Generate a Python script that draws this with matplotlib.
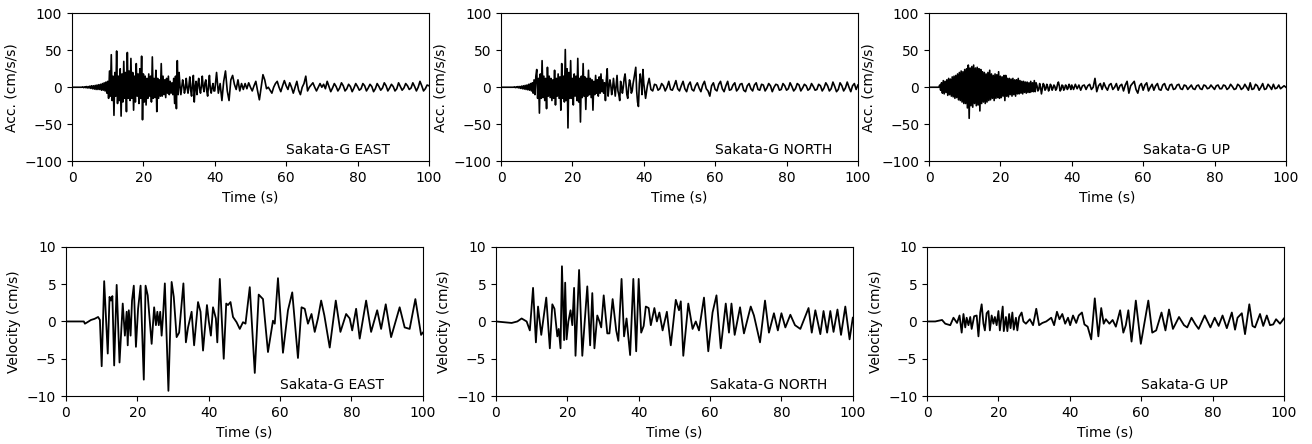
import numpy as np
import matplotlib
matplotlib.use('Agg')
import matplotlib.pyplot as plt

# acceleration (cm/s/s), 0-39.75 s read every 0.25 s (one row = 5 s)
east_acc_early = [
    0, 0, 0, 0, 0, 0, 0, 0, 0, 0, 0, 0, 0.5, -0.5, 0.5, -0.5, 1, -1, 1, -1,
    1.5, -1.5, 2, -2, 2, -2.5, 2.5, -3, 3, -3, 3.5, -3, 4, -4, 5, -4, 6, -5, 7, -8,
    8, -15, 22, -12, 44, -18, 15, -38, 20, -12, 49, -22, 15, -18, 25, -39, 18, -20, 35, -15,
    20, -33, 47, -15, 22, -18, 39, -15, 20, -31, 15, -20, 32, -12, 18, -22, 25, -15, 42, -44,
    18, -20, 15, -24, 12, -15, 18, -12, 15, -20, 41, -15, 12, -14, 23, -33, 12, -15, 10, -12,
    32, -12, 15, -10, 10, -14, 12, -8, 15, -10, 8, -8, 6, -10, 12, -22, 15, -29, 36, -10,
    20, 2, -10, 0, 10, 3, -8, -2, 12, 0, -8, 2, 14, -4, -12, 5, 16, -20, 0, 8,
    -10, 4, 12, -2, -8, 2, 15, 0, -6, 6, 10, -5, -12, 3, 16, -2, -8, 0, 5, -5]
# 40-100 s read every 0.5 s (one row = 10 s)
east_acc_late = [
    -5, 20, -8, 5, -18, 8, 22, -5, -18, 10, 16, 4, -3, 10, -5, 5, -3, 5, -2, 6,
    0, -5, 2, 8, -5, -17, 0, 17, 10, -2, 0, -4, -8, 0, 5, 8, 0, -6, 2, 9,
    2, -3, 6, 0, -8, 0, 8, -4, -10, 0, 5, 15, -5, 0, 3, 6, 0, -5, 0, 5,
    0, 4, -2, 8, 1, -6, -1, 5, 1, -5, -1, 6, 2, -5, -2, 4, 1, -6, -1, 5,
    1, -4, -2, 5, 2, -5, -1, 4, 1, -6, -2, 5, 1, -4, -1, 6, 2, -5, -1, 4,
    1, -5, -2, 6, 1, -4, -1, 5, 2, -3, -1, 6, 1, -5, 0, 8, 2, -5, -2, 3,
    2]

north_acc_early = [
    0, 0, 0, 0, 0, 0, 0, 0, 0, 0, 0, 0, 0, 0, 0, 0.5, -0.5, 0.5, -0.5, 1,
    -1, 1, -1.5, 1.5, -2, 2, -2.5, 2.5, -3, 3, -3.5, 4, -4, 5, -5, 6, -8, 10, -10, 15,
    24, -15, 12, -35, 18, -15, 36, -14, 15, -18, 12, -29, 27, -12, 15, -14, 12, -18, 10, -15,
    23, -24, 12, -12, 18, -15, 14, -31, 32, -15, 15, -20, 51, -18, 25, -55, 20, -15, 36, -15,
    12, -24, 18, -12, 15, -18, 39, -20, 12, -47, 15, -14, 32, -12, 14, -30, 12, -12, 23, -10,
    12, -14, 10, -31, 8, -10, 16, -8, 10, -12, 14, -8, 18, -6, 10, -8, 6, -18, 10, 25,
    -12, 0, 10, 3, -10, -2, 12, 0, -12, 2, 16, -5, -10, -18, 8, 2, -8, 0, 12, 18,
    5, -10, -15, 0, 10, 5, -8, -5, 5, 12, 20, 27, -5, -20, -26, 5, 18, 8, -10, 24]
north_acc_late = [
    5, -15, 2, 12, -3, -5, 4, 3, -4, -2, 5, 2, -5, 0, 8, -3, -4, 2, 9, -2,
    -5, 2, 8, -2, -6, 3, 7, -3, -5, 2, 6, -1, -6, 3, 8, -2, -5, -12, 2, 6,
    -3, -5, 4, 8, -2, -6, 2, 8, -4, -3, 3, 6, -5, -2, 4, 5, -4, -6, 2, 5,
    -2, -5, 3, 6, -3, -4, 4, 3, -5, -1, 5, 2, -6, 0, 4, 3, -4, -3, 5, 2,
    -4, -2, 6, 1, -5, -2, 5, 3, -5, -1, 4, 2, -4, -2, 5, 1, -4, -3, 4, 2,
    -5, -1, 6, 2, -5, -2, 7, 1, -6, -3, 6, 2, -5, -1, 7, 0, -6, 2, 5, -3,
    3]

up_acc_early = [
    0, 0, 0, 0, 0, 0, 0, 0, 0, 0, 0, 0, 3, -4, 6, -8, 9, -9, 8, -7,
    10, -11, 12, -10, 11, -12, 14, -13, 15, -15, 16, -14, 18, -17, 20, -18, 22, -20, 21, -22,
    24, -22, 25, -28, 30, -42, 26, -25, 28, -27, 30, -22, 26, -25, 27, -24, 25, -32, 24, -22,
    21, -20, 20, -22, 18, -20, 20, -18, 23, -17, 18, -15, 16, -18, 18, -15, 17, -14, 21, -15,
    15, -14, 14, -12, 16, -18, 16, -12, 12, -13, 12, -10, 11, -12, 12, -10, 10, -12, 10, -9,
    12, -9, 9, -8, 8, -9, 8, -7, 7, -8, 7, -7, 6, -7, 8, -6, 6, -6, 9, -6,
    6, 2, -5, -3, 5, 0, -9, -2, 5, 3, -4, -2, 4, 1, -5, -2, 4, 2, -4, -1,
    3, 1, -4, -2, 4, 7, 2, -5, -3, 3, 2, -4, -2, 3, 2, -3, -1, 4, 1, -3]
up_acc_late = [
    3, -3, 4, -2, 3, -4, 2, 3, -3, 2, 4, -3, 0, 12, -6, 2, 5, -3, 6, 0,
    -4, 3, 5, -3, 0, 5, -4, 2, 4, -5, 3, 8, -8, 2, 5, 8, -3, -8, 2, 5,
    -4, 3, 6, -5, 0, 4, -4, 2, 5, -3, -4, 3, 5, -2, -4, 3, 4, -3, -2, 3,
    4, -2, -3, 3, 2, -3, 0, 3, -2, -3, 2, 3, -2, -3, 3, 2, -2, -1, 3, 0,
    -3, 2, 3, -2, -2, 3, 2, -3, -1, 4, 1, -3, -2, 4, 2, -3, -1, 4, 0, -4,
    6, -3, -2, 4, 2, -4, 0, 5, -3, -2, 4, 1, -3, 4, -2, -1, 3, -2, 0, 2,
    0]

# velocity (cm/s), (time, value) at the turning points of the trace
east_vel = [
    (0, 0), (5, 0), (5.3, -0.3), (6, -0.1), (7, 0.2), (8, 0.35), (9, 0.6), (9.5, 0.2),
    (10.0, -6.0), (10.7, 5.4), (11.7, -4.3), (12.2, 3.3), (12.6, 2.8), (13.0, 3.4), (13.5, -5.9),
    (14.2, 4.9), (15.0, -5.5), (15.9, 2.4), (16.5, -1.9), (17.0, 1.3), (17.3, -3.2), (17.6, 1.5),
    (18.1, -1.9), (18.5, 2.8), (19.0, 4.8), (19.6, -3.4), (20.2, 1.7), (20.9, 4.8), (21.8, -7.8),
    (22.3, 4.8), (22.9, 3.5), (24.0, -3.0), (24.7, 1.9), (25.2, -0.5), (25.6, 1.3), (26.0, -0.5),
    (26.4, 1.3), (26.8, -1.9), (27.2, 0.8), (27.7, 5.1), (28.7, -9.3), (29.6, 5.3), (30.2, 3.3),
    (31.0, -2.1), (31.7, -1.5), (32.9, 5.1), (33.6, -2.8), (34.2, -0.8), (35.2, 1.3), (35.9, -3.2),
    (37.0, 2.6), (37.7, 1.3), (38.4, -3.9), (39.5, 2.2), (40.0, 0.1), (40.6, -1.9), (41.2, 1.9),
    (42.0, 0.4), (42.4, -2.8), (43.1, 5.7), (44.2, -5.0), (44.9, 2.4), (45.4, 2.2), (46.1, 2.6),
    (46.8, 0.6), (47.8, -0.1), (48.7, -1.0), (49.6, -0.1), (50.3, -0.3), (51.5, 4.6), (52.9, -6.9),
    (54.0, 3.6), (55.2, 3.0), (56.6, -4.1), (58.0, 0.1), (58.5, -0.3), (59.4, 5.8), (60.8, -4.2),
    (62.2, 1.5), (63.4, 3.9), (65.0, -4.9), (66.0, 1.9), (66.9, 1.7), (67.8, -0.3), (68.8, 1.0),
    (69.7, -1.4), (70.6, 0.4), (71.5, 2.8), (72.4, 0.8), (73.9, -3.5), (75.6, 2.8), (76.9, -1.4),
    (78.5, 1.0), (79.5, 0.4), (80.2, -1.2), (81.3, 1.7), (82.3, -2.3), (84.1, 2.8), (85.5, -1.4),
    (87.2, 1.5), (88.3, -1.0), (89.6, 2.3), (91.1, -2.1), (93.5, 1.9), (94.9, -0.8), (96.3, -1.0),
    (97.9, 3.0), (99.5, -1.8), (100, -1.5)]
north_vel = [
    (0, 0), (4.4, -0.2), (6, 0), (7.2, 0.4), (8.6, 0), (9.5, -1.2), (10.4, 4.5), (11.2, -2.8),
    (11.8, 2.0), (12.7, -1.8), (14.1, 3.2), (15.1, -3.6), (15.8, 2.3), (16.4, 1.7), (17.2, -2.0),
    (17.6, -1.0), (18.1, -3.6), (18.5, 7.4), (19.1, -2.5), (19.4, 5.2), (19.8, -2.4), (20.3, 0),
    (20.9, 1.5), (21.4, -0.5), (21.9, 4.5), (22.3, -4.6), (23.3, 6.9), (24.2, -4.6), (24.8, -0.5),
    (25.6, 4.7), (26.4, -3.2), (27.0, 3.8), (27.6, -3.6), (28.4, 0.8), (29.0, 0), (29.5, -0.8),
    (30.2, 3.5), (31.2, -1.6), (31.8, -1.6), (32.7, 3.0), (33.7, -1.2), (34.3, -2.6), (35.2, 5.7),
    (35.9, -2.0), (36.6, 0.4), (37.6, -4.5), (38.5, 5.7), (39.3, -4.0), (40.0, 5.7), (40.7, -1.5),
    (41.4, -0.6), (42.0, 2.0), (42.8, 1.8), (43.4, -0.5), (44.4, 1.8), (45.1, 0), (45.8, 1.2),
    (46.7, -1.2), (47.9, 1.3), (49.0, -3.2), (50.4, 2.9), (51.3, 1.5), (51.8, 2.7), (52.5, -4.6),
    (53.9, 2.4), (55.1, -1.0), (56.0, 0), (56.9, -1.2), (58.3, 3.2), (59.5, -4.0), (60.7, 1.2),
    (61.8, 3.5), (63.0, -3.6), (64.4, 2.4), (65.3, -1.5), (66.0, 2.4), (66.9, -1.8), (68.4, 1.9),
    (69.5, -1.6), (71.4, 2.0), (72.3, 0.8), (74.0, -2.8), (75.4, 2.8), (76.5, -1.5), (77.9, 1.1),
    (79.0, -1.2), (80.0, 1.1), (81.1, -0.8), (82.5, 0.9), (83.8, -0.5), (85.3, -1.0), (87.6, 1.8),
    (88.5, -1.5), (89.5, 1.5), (90.9, -1.7), (91.8, 1.4), (92.8, -1.5), (93.7, 1.4), (94.6, -1.4),
    (95.7, 1.6), (96.7, -1.8), (97.9, 2.0), (99.1, -2.4), (100, 0.5)]
up_vel = [
    (0, 0), (2.3, 0), (4.2, 0.2), (5.1, -0.3), (6.5, -0.5), (7.4, 0.5), (8.4, -0.2), (9.1, 0.8),
    (9.7, -1.5), (10.2, 1.0), (10.7, -0.8), (11.1, 0.5), (11.6, -0.5), (12.1, 0.6), (12.5, -1.0),
    (13.2, 0.7), (13.9, 0.8), (14.4, -2.0), (14.9, 1.2), (15.3, 2.3), (15.8, -0.3), (16.2, -1.2),
    (16.7, 1.1), (17.2, 1.4), (17.6, -1.2), (18.1, 0.8), (18.6, -0.3), (19.0, 0.6), (19.5, -0.5),
    (20.0, 1.4), (20.4, -1.2), (21.2, 2.0), (21.5, -1.3), (22.1, 0.6), (22.5, -1.3), (23.0, 1.0),
    (23.4, -0.9), (23.9, 1.2), (24.3, -1.1), (24.9, 0.5), (25.3, -1.2), (25.8, 0.6), (26.5, 1.2),
    (27.0, 0), (27.7, -0.3), (28.8, 0.3), (29.7, -0.5), (30.6, 1.7), (31.4, -0.5), (32.3, -0.2),
    (33.4, 0), (34.8, 0.5), (35.6, -0.5), (36.4, 1.3), (37.1, 0.3), (37.9, 1.0), (38.7, -0.3),
    (39.5, 0.5), (40.1, -0.5), (40.9, 0.8), (41.8, -0.2), (42.5, 0.8), (43.4, 1.2), (44.1, -0.4),
    (45.0, -0.7), (46.0, -2.4), (47.0, 3.1), (48.0, -2.0), (48.8, 1.8), (49.5, -0.3), (50.1, 0.3),
    (51.1, -0.3), (52.0, 0.2), (52.9, -0.7), (54.1, 1.5), (55.0, -1.5), (55.7, -0.5), (56.4, 1.5),
    (57.3, -2.7), (58.5, 2.8), (59.9, -3.0), (62.0, 2.8), (63.1, -1.5), (64.2, -1.2), (65.7, 1.2),
    (66.8, -1.2), (67.8, 1.6), (68.9, -1.0), (70.6, 0.6), (72.0, -0.5), (72.9, -0.8), (74.1, 0.5),
    (75.2, -0.4), (76.1, -1.0), (77.8, 0.8), (79.4, -0.8), (80.6, 0.5), (81.7, -0.6), (82.8, 0.8),
    (84.0, -0.9), (85.4, 1.2), (86.3, -1.1), (87.0, 0.5), (88.2, 1.1), (89.1, -1.7), (90.3, 2.3),
    (91.2, -0.6), (91.9, -0.8), (93.3, 1.0), (94.2, -0.6), (95.2, 0.8), (96.1, -0.5), (97.0, -0.4),
    (97.8, 0.3), (98.9, -0.3), (100, 0.4)]

components = ['EAST', 'NORTH', 'UP']
station = 'Sakata-G'
acc_parts = [(east_acc_early, east_acc_late),
             (north_acc_early, north_acc_late),
             (up_acc_early, up_acc_late)]
vels = [east_vel, north_vel, up_vel]

fig = plt.figure(figsize=(13.12, 4.44), dpi=100)

top_lefts = [0.0549, 0.3819, 0.7081]
bottom_lefts = [0.0503, 0.3780, 0.7066]

for i, comp in enumerate(components):
    early, late = acc_parts[i]
    t = np.concatenate([np.arange(len(early)) * 0.25, 40 + np.arange(len(late)) * 0.5])
    acc = np.concatenate([early, late])

    ax = fig.add_axes([top_lefts[i], 0.637, 0.272, 0.333])
    ax.plot(t, acc, color='k', lw=1.2)
    ax.set_xlim(0, 100)
    ax.set_ylim(-100, 100)
    ax.set_yticks([-100, -50, 0, 50, 100])
    ax.set_xlabel('Time (s)')
    ax.set_ylabel('Acc. (cm/s/s)')
    ax.text(0.6, 0.05, station + ' ' + comp, transform=ax.transAxes, fontsize=10)

for i, comp in enumerate(components):
    t, v = zip(*vels[i])
    ax = fig.add_axes([bottom_lefts[i], 0.108, 0.272, 0.336])
    ax.plot(t, v, color='k', lw=1.3, solid_joinstyle='round')
    ax.set_xlim(0, 100)
    ax.set_ylim(-10, 10)
    ax.set_yticks([-10, -5, 0, 5, 10])
    ax.set_xlabel('Time (s)')
    ax.set_ylabel('Velocity (cm/s)')
    ax.text(0.6, 0.05, station + ' ' + comp, transform=ax.transAxes, fontsize=10)

fig.savefig('out.png', dpi=100)
